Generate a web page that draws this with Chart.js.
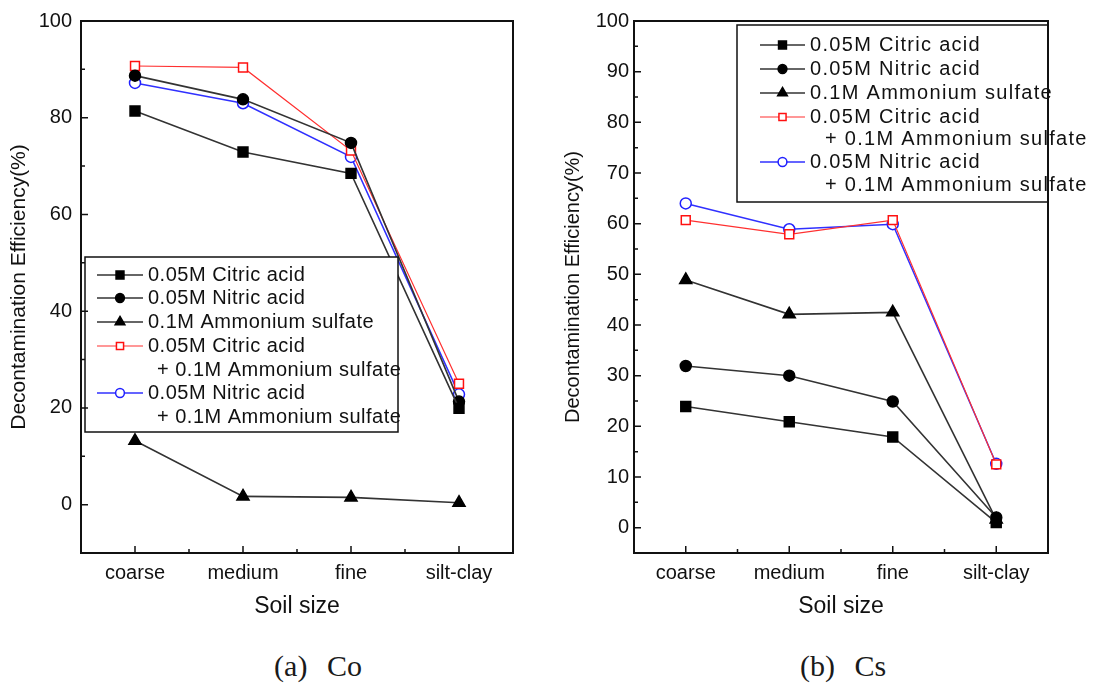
<!DOCTYPE html>
<html>
<head>
<meta charset="utf-8">
<script src="https://cdn.jsdelivr.net/npm/chart.js@4"></script>
<style>
body { margin: 0; background: #fff; width: 1099px; height: 686px; position: relative; overflow: hidden; }
canvas { position: absolute; top: 0; }
#co { left: 0; }
#cs { left: 550px; }
.cap { position: absolute; top: 649px; font-family: "Liberation Serif", serif; font-size: 30px; word-spacing: 12px; color: #1a1a1a; transform: translateX(-50%); white-space: nowrap; }
</style>
</head>
<body>
<canvas id="co" width="545" height="640"></canvas>
<canvas id="cs" width="549" height="640"></canvas>
<div class="cap" style="left:318px">(a) Co</div>
<div class="cap" style="left:843px">(b) Cs</div>
<script>
const soilSizes = ['coarse', 'medium', 'fine', 'silt-clay'];
const seriesNames = ['0.05M Citric acid', '0.05M Nitric acid', '0.1M Ammonium sulfate', '0.05M Citric acid', '0.05M Nitric acid'];
const secondLines = ['', '', '', '+ 0.1M Ammonium sulfate', '+ 0.1M Ammonium sulfate'];

// (a) Co
const coCitric = [81.4, 72.9, 68.5, 19.9];
const coNitric = [88.7, 83.8, 74.8, 21.3];
const coAmmonium = [13.2, 1.7, 1.5, 0.4];
const coCitricAmm = [90.7, 90.4, 73.2, 25.0];
const coNitricAmm = [87.2, 83.0, 71.9, 22.8];
const coTicks = [0, 20, 40, 60, 80, 100];

// (b) Cs
const csCitric = [23.9, 20.9, 17.9, 1.0];
const csNitric = [31.9, 30.0, 24.9, 2.0];
const csAmmonium = [48.9, 42.1, 42.5, 1.6];
const csCitricAmm = [60.7, 57.9, 60.7, 12.5];
const csNitricAmm = [64.0, 58.9, 59.9, 12.6];
const csTicks = [0, 10, 20, 30, 40, 50, 60, 70, 80, 90, 100];

const fontFam = '"Liberation Sans", Arial, sans-serif';
const styles = [
  { line: '#333', border: '#000', fill: '#000', shape: 'rect', r: 7, w: 1.6 },
  { line: '#333', border: '#000', fill: '#000', shape: 'circle', r: 5.5, w: 1.6 },
  { line: '#333', border: '#000', fill: '#000', shape: 'triangle', r: 7, w: 1.6 },
  { line: '#ff3030', border: '#ff1010', fill: '#fff', shape: 'rect', r: 6.3, w: 1.2 },
  { line: '#3030ff', border: '#2020ff', fill: '#fff', shape: 'circle', r: 5.5, w: 1.5 }
];

function drawMarker(ctx, s, x, y, r) {
  ctx.beginPath();
  if (s.shape === 'rect') {
    const h = r * Math.SQRT1_2;
    ctx.rect(x - h, y - h, 2 * h, 2 * h);
  } else if (s.shape === 'circle') {
    ctx.arc(x, y, r, 0, Math.PI * 2);
  } else {
    ctx.moveTo(x, y - r);
    ctx.lineTo(x + r * 0.866, y + r * 0.5);
    ctx.lineTo(x - r * 0.866, y + r * 0.5);
    ctx.closePath();
  }
  ctx.fillStyle = s.fill;
  ctx.fill();
  ctx.lineWidth = 1.5;
  ctx.strokeStyle = s.border;
  ctx.stroke();
}

const framePlugin = {
  id: 'frame',
  afterDatasetsDraw(chart, args, opts) {
    const { ctx, chartArea: a, scales: { x, y } } = chart;
    const L = opts.legend;
    ctx.save();
    // legend box
    ctx.fillStyle = '#fff';
    ctx.fillRect(L.x, L.y, L.w, L.h);
    ctx.strokeStyle = '#111';
    ctx.lineWidth = 1.5;
    ctx.strokeRect(L.x, L.y, L.w, L.h);
    ctx.font = '20px ' + fontFam;
    ctx.letterSpacing = L.spacing;
    ctx.textBaseline = 'middle';
    const rowIdx = [0, 1, 2, 3, 5];
    seriesNames.forEach((name, i) => {
      const s = styles[i];
      const ry = L.rows[rowIdx[i]];
      ctx.strokeStyle = s.line;
      ctx.lineWidth = s.w;
      ctx.beginPath();
      ctx.moveTo(L.lineX0, ry);
      ctx.lineTo(L.lineX1, ry);
      ctx.stroke();
      drawMarker(ctx, s, (L.lineX0 + L.lineX1) / 2, ry, s.r * 0.8);
      ctx.fillStyle = '#111';
      ctx.fillText(name, L.textX, ry);
      if (secondLines[i]) ctx.fillText(secondLines[i], L.plusX, L.rows[rowIdx[i] + 1]);
    });
    ctx.letterSpacing = '0px';
    // frame
    ctx.strokeStyle = '#111';
    ctx.lineWidth = 2;
    ctx.strokeRect(a.left, a.top, a.width, a.height);
    // inward ticks
    ctx.lineWidth = 1.5;
    ctx.beginPath();
    for (let v = opts.minorStart; v <= 100; v += opts.minor) {
      const py = y.getPixelForValue(v);
      const len = opts.major.includes(v) ? 7 : 4;
      ctx.moveTo(a.left, py);
      ctx.lineTo(a.left + len, py);
    }
    for (let i = 0; i < soilSizes.length; i++) {
      const px = x.getPixelForValue(i);
      ctx.moveTo(px, a.bottom);
      ctx.lineTo(px, a.bottom - 7);
      if (i < soilSizes.length - 1) {
        const mx = (px + x.getPixelForValue(i + 1)) / 2;
        ctx.moveTo(mx, a.bottom);
        ctx.lineTo(mx, a.bottom - 4);
      }
    }
    ctx.stroke();
    ctx.restore();
  }
};

function makeChart(id, values, cfg) {
  return new Chart(document.getElementById(id), {
    type: 'line',
    data: {
      labels: soilSizes,
      datasets: values.map((vals, i) => ({
        label: seriesNames[i] + (secondLines[i] ? ' ' + secondLines[i] : ''),
        data: vals,
        borderColor: styles[i].line,
        borderWidth: styles[i].w,
        backgroundColor: styles[i].fill,
        pointStyle: styles[i].shape,
        pointRadius: styles[i].r,
        pointBackgroundColor: styles[i].fill,
        pointBorderColor: styles[i].border,
        pointBorderWidth: 1.5,
        tension: 0,
        fill: false
      }))
    },
    options: {
      responsive: false,
      animation: false,
      layout: { padding: { left: 0, right: cfg.padRight, top: cfg.padTop, bottom: 0 } },
      plugins: {
        legend: { display: false },
        tooltip: { enabled: false },
        frame: cfg.frame
      },
      scales: {
        x: {
          type: 'category',
          offset: true,
          grid: { display: false, drawTicks: false },
          border: { display: false },
          ticks: { color: '#111', padding: 8, font: { family: fontFam, size: 20 } },
          title: {
            display: true, text: 'Soil size', color: '#111',
            font: { family: fontFam, size: 23 }, padding: { top: 0, bottom: 20 }
          },
          afterFit: s => { s.height = 87; }
        },
        y: {
          min: cfg.min,
          max: 100,
          grid: { display: false, drawTicks: false },
          border: { display: false },
          afterBuildTicks: s => { s.ticks = cfg.ticks.map(v => ({ value: v })); },
          ticks: { color: '#111', padding: cfg.tickPad, font: { family: fontFam, size: 20 } },
          title: {
            display: true, text: 'Decontamination Efficiency(%)', color: '#111',
            font: { family: fontFam, size: cfg.titleSize }, padding: { top: cfg.titlePad, bottom: 0 }
          },
          afterFit: s => { s.width = cfg.axisWidth; }
        }
      }
    },
    plugins: [framePlugin]
  });
}

makeChart('co', [coCitric, coNitric, coAmmonium, coCitricAmm, coNitricAmm], {
  min: -10, ticks: coTicks, padRight: 32, padTop: 18, axisWidth: 81, tickPad: 9,
  titleSize: 21, titlePad: 7,
  frame: {
    minorStart: 0, minor: 10, major: coTicks,
    legend: {
      x: 85, y: 257, w: 313, h: 175, spacing: '0.5px',
      rows: [275, 298, 322, 346, 370, 393, 417],
      lineX0: 97, lineX1: 143, textX: 148, plusX: 157
    }
  }
});

makeChart('cs', [csCitric, csNitric, csAmmonium, csCitricAmm, csNitricAmm], {
  min: -5, ticks: csTicks, padRight: 51, padTop: 21, axisWidth: 84, tickPad: 5,
  titleSize: 20, titlePad: 11,
  frame: {
    minorStart: 0, minor: 5, major: csTicks,
    legend: {
      x: 187, y: 25, w: 311, h: 177, spacing: '1.3px',
      rows: [45, 69, 93, 117, 139, 162, 185],
      lineX0: 210, lineX1: 255, textX: 260, plusX: 275
    }
  }
});
</script>
</body>
</html>
